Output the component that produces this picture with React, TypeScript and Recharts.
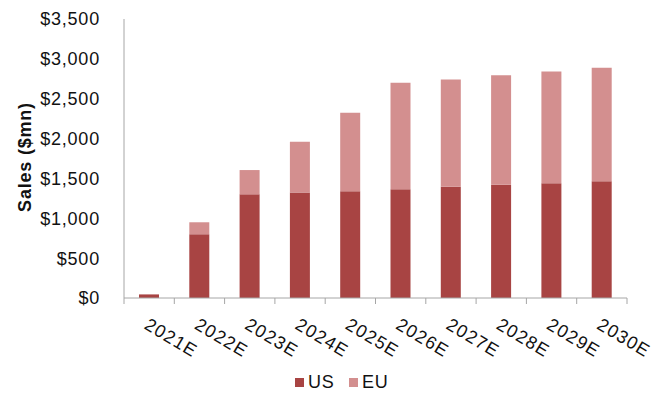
import React from "react";
import { BarChart, Bar, XAxis, YAxis, Label } from "recharts";

// sales forecast, $mn
const years = ["2021E", "2022E", "2023E", "2024E", "2025E", "2026E", "2027E", "2028E", "2029E", "2030E"];
const usSales = [45, 800, 1300, 1325, 1340, 1365, 1395, 1420, 1440, 1465];
const euSales = [0, 150, 305, 635, 985, 1335, 1345, 1375, 1400, 1425];
const yTicks = [0, 500, 1000, 1500, 2000, 2500, 3000, 3500];

const US_COLOR = "#A84443";
const EU_COLOR = "#D38F8F";
const AXIS_COLOR = "#A6A6A6";
const FONT = "'Liberation Sans', Arial, sans-serif";

const W = 667;
const H = 394;
const PLOT_LEFT = 124;
const PLOT_RIGHT = 627;
const BAND = (PLOT_RIGHT - PLOT_LEFT) / years.length;

const data = years.map((year, i) => ({ year, US: usSales[i], EU: euSales[i] }));

const fmtDollar = (v: number) => "$" + v.toLocaleString("en-US");

// ticks sit between categories, like Excel does
const XTick = (props: any) => {
  const { x, y, payload, index } = props;
  const half = BAND / 2;
  const tx = x - 6;
  const ty = y + 30;
  return (
    <g>
      <line x1={x - half} x2={x - half} y1={y} y2={y + 6} stroke={AXIS_COLOR} />
      {index === years.length - 1 && (
        <line x1={x + half} x2={x + half} y1={y} y2={y + 6} stroke={AXIS_COLOR} />
      )}
      <text
        x={tx}
        y={ty}
        transform={`rotate(31 ${tx} ${ty})`}
        textAnchor="start"
        fontSize={18}
        letterSpacing={1.2}
        fontFamily={FONT}
        fill="#111"
      >
        {payload.value}
      </text>
    </g>
  );
};

const YLabel = () => (
  <text
    x={25}
    y={157}
    transform="rotate(-90 25 157)"
    textAnchor="middle"
    dominantBaseline="central"
    fontSize={18}
    fontWeight="bold"
    letterSpacing={0.8}
    fontFamily={FONT}
    fill="#111"
  >
    Sales ($mn)
  </text>
);

const legendItems = [
  { name: "US", color: US_COLOR, left: 295 },
  { name: "EU", color: EU_COLOR, left: 349 },
];

export default function App() {
  return (
    <div style={{ position: "absolute", left: 0, top: 0, width: W, height: H, background: "#fff" }}>
      <BarChart
        width={W}
        height={H}
        data={data}
        margin={{ top: 19, right: W - PLOT_RIGHT, bottom: 0, left: 0 }}
        barSize={20}
      >
        <XAxis
          dataKey="year"
          height={96}
          interval={0}
          tickLine={false}
          tickSize={0}
          tickMargin={0}
          stroke={AXIS_COLOR}
          tick={<XTick />}
        />
        <YAxis
          width={PLOT_LEFT}
          domain={[0, 3500]}
          ticks={yTicks}
          tickFormatter={fmtDollar}
          tickLine={false}
          tickSize={6}
          tickMargin={18}
          stroke={AXIS_COLOR}
          tick={{ fill: "#111", fontSize: 18, fontFamily: FONT, letterSpacing: 0.8 }}
        >
          <Label content={<YLabel />} />
        </YAxis>
        <Bar dataKey="US" stackId="s" fill={US_COLOR} isAnimationActive={false} />
        <Bar dataKey="EU" stackId="s" fill={EU_COLOR} isAnimationActive={false} />
      </BarChart>
      {legendItems.map((item) => (
        <div
          key={item.name}
          style={{
            position: "absolute",
            left: item.left,
            top: 372,
            display: "flex",
            alignItems: "center",
            fontFamily: FONT,
            fontSize: 18,
            letterSpacing: 0.8,
            color: "#111",
          }}
        >
          <span style={{ display: "inline-block", width: 9, height: 9, background: item.color, marginRight: 4 }} />
          {item.name}
        </div>
      ))}
    </div>
  );
}
